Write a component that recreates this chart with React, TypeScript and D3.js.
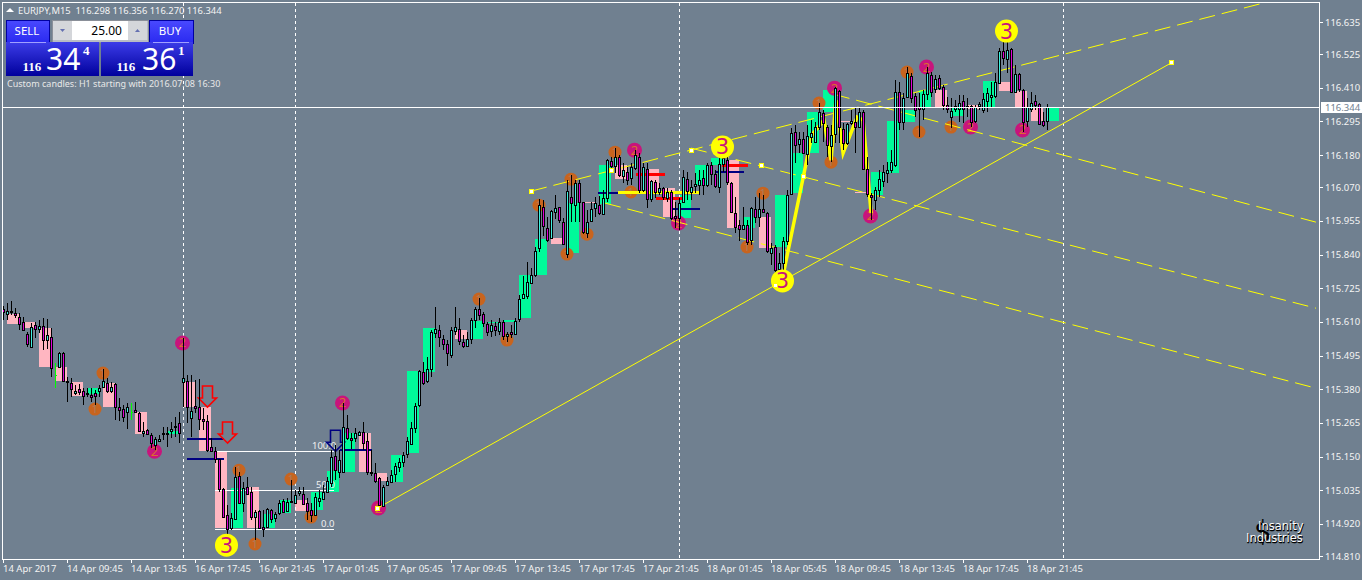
import * as d3 from "d3";

// [open, high, low, close] of every M15 bar
const candles: number[][] = [
  [115.654,115.664,115.616,115.644],[115.637,115.674,115.616,115.647],[115.644,115.681,115.633,115.647],[115.640,115.657,115.623,115.633],
  [115.627,115.640,115.582,115.603],[115.610,115.627,115.579,115.582],[115.568,115.575,115.524,115.534],[115.524,115.606,115.521,115.592],
  [115.599,115.610,115.555,115.585],[115.585,115.616,115.572,115.596],[115.596,115.623,115.514,115.548],[115.548,115.620,115.517,115.565],
  [115.558,115.589,115.421,115.452],[115.428,115.469,115.384,115.428],[115.456,115.507,115.452,115.503],[115.503,115.507,115.404,115.408],
  [115.408,115.421,115.336,115.404],[115.401,115.418,115.353,115.380],[115.367,115.394,115.360,115.374],[115.380,115.397,115.360,115.370],
  [115.374,115.384,115.326,115.356],[115.367,115.384,115.353,115.363],[115.360,115.384,115.336,115.353],[115.367,115.377,115.326,115.356],
  [115.374,115.394,115.353,115.384],[115.387,115.449,115.384,115.408],[115.401,115.418,115.367,115.374],[115.374,115.404,115.367,115.387],
  [115.397,115.401,115.274,115.319],[115.319,115.350,115.271,115.309],[115.312,115.326,115.268,115.285],[115.302,115.333,115.244,115.319],
  [115.302,115.333,115.274,115.302],[115.309,115.336,115.298,115.302],[115.298,115.302,115.233,115.237],[115.230,115.268,115.216,115.237],
  [115.240,115.244,115.223,115.227],[115.223,115.230,115.179,115.196],[115.189,115.216,115.172,115.209],[115.203,115.223,115.199,115.209],
  [115.230,115.251,115.206,115.227],[115.227,115.251,115.182,115.230],[115.237,115.268,115.213,115.244],[115.251,115.285,115.216,115.254],
  [115.264,115.302,115.196,115.230],[115.404,115.555,115.319,115.418],[115.408,115.428,115.264,115.319],[115.281,115.428,115.216,115.305],
  [115.322,115.411,115.298,115.315],[115.319,115.415,115.240,115.278],[115.278,115.315,115.240,115.271],[115.271,115.292,115.165,115.172],
  [115.182,115.213,115.165,115.168],[115.168,115.182,115.127,115.141],[115.141,115.141,115.028,115.039],[115.039,115.042,114.940,114.943],
  [114.950,114.984,114.837,114.902],[114.905,114.957,114.898,114.940],[114.936,115.114,114.936,115.080],[115.083,115.097,114.991,114.991],
  [114.991,115.063,114.960,115.042],[115.045,115.080,115.018,115.021],[115.028,115.045,114.933,114.943],[114.943,114.967,114.864,114.960],
  [114.963,114.967,114.905,114.905],[114.909,114.967,114.875,114.902],[114.909,114.974,114.905,114.970],[114.967,114.970,114.922,114.936],
  [114.940,114.960,114.926,114.953],[114.957,115.001,114.950,114.991],[114.998,115.004,114.957,114.960],[114.963,115.008,114.960,114.994],
  [114.994,115.069,114.991,114.998],[114.991,115.035,114.991,115.018],[115.025,115.045,115.015,115.032],[115.021,115.045,114.984,114.987],
  [114.991,115.008,114.933,114.963],[114.967,114.991,114.926,114.950],[114.950,115.025,114.950,115.011],[114.998,115.035,114.977,115.008],
  [115.004,115.052,115.004,115.028],[115.028,115.080,115.025,115.066],[115.059,115.172,115.045,115.148],[115.151,115.189,115.069,115.103],
  [115.097,115.172,115.076,115.138],[115.097,115.333,115.093,115.251],[115.247,115.292,115.206,115.213],[115.213,115.230,115.175,115.206],
  [115.213,115.247,115.199,115.230],[115.223,115.237,115.223,115.233],[115.233,115.268,115.172,115.196],[115.203,115.230,115.086,115.097],
  [115.097,115.172,115.083,115.093],[115.093,115.127,115.059,115.066],[115.076,115.080,114.977,114.984],[114.980,115.052,114.977,115.045],
  [115.052,115.080,115.049,115.066],[115.063,115.103,115.059,115.086],[115.090,115.127,115.063,115.117],[115.114,115.145,115.097,115.131],
  [115.131,115.165,115.114,115.155],[115.158,115.216,115.145,115.203],[115.192,115.268,115.189,115.247],[115.247,115.333,115.230,115.322],
  [115.326,115.446,115.319,115.442],[115.439,115.473,115.394,115.401],[115.408,115.490,115.401,115.449],[115.449,115.582,115.421,115.575],
  [115.572,115.661,115.555,115.585],[115.582,115.599,115.524,115.558],[115.551,115.565,115.514,115.534],[115.534,115.548,115.459,115.503],
  [115.497,115.592,115.486,115.582],[115.579,115.661,115.565,115.592],[115.585,115.623,115.531,115.544],[115.541,115.565,115.521,115.527],
  [115.527,115.575,115.524,115.551],[115.551,115.623,115.534,115.616],[115.616,115.661,115.589,115.654],[115.654,115.691,115.616,115.633],
  [115.637,115.644,115.592,115.606],[115.603,115.610,115.562,115.575],[115.579,115.616,115.558,115.599],[115.596,115.610,115.562,115.582],
  [115.579,115.623,115.565,115.610],[115.610,115.616,115.548,115.562],[115.562,115.575,115.541,115.568],[115.575,115.599,115.555,115.568],
  [115.568,115.623,115.565,115.613],[115.620,115.702,115.610,115.688],[115.691,115.767,115.691,115.705],[115.698,115.815,115.688,115.746],
  [115.743,115.794,115.739,115.770],[115.770,115.866,115.763,115.852],[115.862,116.030,115.849,116.009],[116.002,116.026,115.903,115.938],
  [115.931,115.968,115.883,115.890],[115.897,115.992,115.893,115.989],[115.985,116.043,115.961,115.999],[116.002,116.002,115.948,115.958],
  [115.951,115.965,115.873,115.876],[115.842,116.095,115.828,116.057],[116.037,116.112,115.951,116.016],[116.009,116.095,115.951,116.085],
  [116.085,116.095,115.951,116.020],[116.020,116.020,115.910,115.917],[115.914,115.992,115.897,115.951],[115.955,116.020,115.951,115.996],
  [115.999,116.037,115.968,116.016],[116.009,116.040,115.975,115.982],[115.979,116.061,115.975,116.033],[116.033,116.167,116.020,116.163],
  [116.160,116.173,116.119,116.143],[116.143,116.204,116.119,116.173],[116.173,116.180,116.105,116.112],[116.108,116.153,116.085,116.129],
  [116.122,116.139,116.078,116.095],[116.102,116.153,116.078,116.139],[116.136,116.197,116.129,116.180],[116.173,116.187,116.050,116.061],
  [116.061,116.153,116.054,116.139],[116.132,116.153,115.999,116.030],[116.030,116.095,116.020,116.091],[116.088,116.095,116.033,116.054],
  [116.054,116.085,116.043,116.067],[116.067,116.071,116.026,116.037],[116.033,116.067,116.020,116.054],[116.054,116.061,115.958,115.965],
  [115.972,116.020,115.931,115.965],[115.965,116.033,115.924,116.016],[116.020,116.129,116.016,116.105],[116.098,116.122,116.026,116.057],
  [116.054,116.095,116.026,116.071],[116.074,116.119,116.050,116.081],[116.078,116.129,116.043,116.095],[116.102,116.129,116.043,116.078],
  [116.078,116.153,116.071,116.146],[116.146,116.156,116.078,116.115],[116.115,116.129,116.067,116.074],[116.071,116.187,116.050,116.149],
  [116.149,116.204,116.122,116.170],[116.163,116.173,116.078,116.088],[116.085,116.088,115.982,115.985],[115.982,116.037,115.914,115.934],
  [115.941,115.958,115.886,115.927],[115.927,116.002,115.924,115.941],[115.941,115.958,115.873,115.883],[115.890,116.002,115.873,115.999],
  [115.996,116.037,115.948,115.968],[115.968,116.050,115.934,115.996],[115.996,116.043,115.982,115.985],[115.982,115.985,115.845,115.852],
  [115.845,115.879,115.804,115.862],[115.866,115.873,115.777,115.787],[115.791,115.845,115.773,115.811],[115.811,115.900,115.746,115.886],
  [115.886,116.061,115.873,116.043],[116.047,116.272,116.043,116.255],[116.259,116.283,116.153,116.214],[116.218,116.259,116.187,116.235],
  [116.235,116.259,116.187,116.187],[116.184,116.283,116.146,116.245],[116.242,116.300,116.221,116.255],[116.225,116.293,116.221,116.276],
  [116.276,116.358,116.266,116.327],[116.324,116.334,116.225,116.290],[116.276,116.283,116.173,116.214],[116.211,116.283,116.156,116.249],
  [116.252,116.413,116.221,116.409],[116.399,116.402,116.221,116.276],[116.269,116.290,116.197,116.221],[116.221,116.290,116.214,116.286],
  [116.290,116.334,116.283,116.296],[116.293,116.344,116.187,116.276],[116.276,116.344,116.276,116.327],[116.327,116.334,116.129,116.132],
  [116.132,116.173,116.037,116.047],[116.043,116.050,115.958,116.037],[116.026,116.071,115.992,116.061],[116.061,116.129,116.037,116.098],
  [116.091,116.146,116.071,116.122],[116.119,116.156,116.085,116.129],[116.129,116.197,116.119,116.156],[116.146,116.437,116.139,116.396],
  [116.396,116.430,116.266,116.293],[116.293,116.392,116.266,116.375],[116.378,116.481,116.375,116.460],[116.450,116.460,116.358,116.375],
  [116.382,116.392,116.310,116.334],[116.344,116.392,116.242,116.337],[116.337,116.402,116.300,116.389],[116.389,116.481,116.368,116.460],
  [116.454,116.464,116.378,116.396],[116.406,116.454,116.392,116.440],[116.443,116.454,116.402,116.409],[116.413,116.419,116.334,116.351],
  [116.351,116.378,116.324,116.337],[116.310,116.375,116.272,116.331],[116.337,116.368,116.327,116.348],[116.337,116.385,116.293,116.358],
  [116.365,116.385,116.290,116.337],[116.348,116.375,116.310,116.344],[116.348,116.351,116.276,116.293],[116.296,116.351,116.290,116.344],
  [116.348,116.361,116.334,116.355],[116.334,116.392,116.324,116.372],[116.365,116.409,116.327,116.392],[116.378,116.430,116.341,116.385],
  [116.382,116.460,116.375,116.430],[116.426,116.546,116.426,116.536],[116.536,116.590,116.488,116.512],[116.508,116.597,116.460,116.539],
  [116.543,116.546,116.396,116.396],[116.396,116.488,116.396,116.457],[116.457,116.460,116.396,116.406],[116.402,116.406,116.259,116.293],
  [116.296,116.375,116.276,116.344],[116.337,116.396,116.327,116.358],[116.365,116.385,116.334,116.351],[116.355,116.358,116.283,116.286],
  [116.296,116.327,116.276,116.283],[116.296,116.356,116.266,116.344],
];

// [open, close] of the custom H1 candles behind the bars
const hourly: number[][] = [
  [115.637,115.603],[115.610,115.589],[115.589,115.456],[115.456,115.408],[115.404,115.356],[115.363,115.384],
  [115.401,115.319],[115.302,115.302],[115.302,115.227],[115.227,115.227],[115.227,115.237],[115.404,115.319],
  [115.319,115.168],[115.168,114.905],[114.905,115.042],[115.045,114.905],[114.905,114.953],[114.957,115.001],
  [115.001,114.963],[114.967,115.028],[115.028,115.100],[115.097,115.230],[115.230,115.097],[115.093,115.066],
  [115.063,115.155],[115.162,115.442],[115.439,115.589],[115.589,115.589],[115.582,115.551],[115.551,115.613],
  [115.606,115.610],[115.610,115.616],[115.623,115.770],[115.770,115.893],[115.897,115.876],[115.845,116.016],
  [116.020,116.016],[116.013,116.146],[116.146,116.098],[116.098,116.098],[116.132,116.054],[116.067,115.968],
  [115.965,116.043],[116.078,116.146],[116.146,116.170],[116.163,115.931],[115.931,115.968],[115.968,115.862],
  [115.866,116.043],[116.050,116.187],[116.187,116.327],[116.327,116.402],[116.296,116.293],[116.054,116.050],
  [116.043,116.122],[116.119,116.296],[116.293,116.334],[116.341,116.402],[116.402,116.341],[116.314,116.344],
  [116.351,116.337],[116.341,116.433],[116.430,116.399],[116.399,116.344],[116.341,116.296],[116.296,116.341],
];

const priceTicks = [116.635,116.525,116.41,116.295,116.18,116.07,115.955,115.84,115.725,115.61,115.495,115.38,115.265,115.15,115.035,114.92,114.81];
const priceFormat = d3.format(".3f");
const lastPrice = 116.344;

const timeLabels = ["14 Apr 2017","14 Apr 09:45","14 Apr 13:45","16 Apr 17:45","16 Apr 21:45","17 Apr 01:45","17 Apr 05:45","17 Apr 09:45","17 Apr 13:45","17 Apr 17:45","17 Apr 21:45","18 Apr 01:45","18 Apr 05:45","18 Apr 09:45","18 Apr 13:45","18 Apr 17:45","18 Apr 21:45"];
const daySeparators = [45, 73, 169, 265];

// wave degree markers: [bar, price]
const wave1 = [[25,115.435],[23,115.312],[59,115.103],[63,114.851],[72,115.073],[77,114.943],[119,115.688],[126,115.548],[134,116.009],[142,116.098],[141,115.842],[146,115.910],[153,116.190],[157,116.054],[190,116.050],[186,115.866],[204,116.358],[207,116.156],[226,116.464],[229,116.259],[237,116.276]];
const wave2 = [[45,115.538],[38,115.168],[85,115.333],[94,114.974],[158,116.197],[169,115.948],[208,116.409],[217,115.972],[231,116.481],[242,116.276],[255,116.266]];
const wave3 = [[56,114.847],[180,116.208],[195,115.750],[251,116.604]];

// trend objects: [bar1, price1, bar2, price2]
const solidTrend = [93.6,114.974,291.9,116.495];
const channelLines = [
  [131.9,116.057,315,116.700],
  [207.6,116.388,328.1,115.951],
  [171.9,116.204,328.1,115.657],
  [150.4,116.016,328,115.384],
];
const anchorPoints = [[93.6,114.974],[291.9,116.495],[131.9,116.057],[172,116.197],[152,116.129],[189.4,116.146],[192.9,115.736],[199.9,116.108]];

const waveLine = [[194.9,115.770],[202.1,116.249],[205.1,116.300],[206.9,116.163],[208.1,116.368],[209.9,116.187],[213.4,116.310],[214.9,116.300],[216.9,115.982]];

// horizontal level segments: [bar1, bar2, price, colour]
const levels: [number, number, number, string][] = [
  [45.9,55,115.210,"#000080"],[45.9,55.1,115.141,"#000080"],[84.1,92.2,115.172,"#000080"],
  [148.6,153.6,116.050,"#000080"],[153.6,174.1,116.054,"#ffff00"],[158,165.4,116.115,"#ff0000"],
  [163,170,116.033,"#ff0000"],[167.4,174.1,115.996,"#000080"],[179.6,186.1,116.143,"#ff0000"],[177.9,185.1,116.122,"#000080"],
];

const fibLevels = [[115.168,"100.0",312],[115.035,"50.0",316],[114.902,"0.0",321]] as [number,string,number][];
const downArrows = [[51,115.319,"#ff0000"],[56,115.196,"#ff0000"],[83,115.168,"#000080"]] as [number,number,string][];

const BG = "#708090";
const UP_BODY = "#40f0e0";
const DOWN_BODY = "#e000d8";
const H1_UP = "#00fa9a";
const H1_DOWN = "#ffb6c1";
const FONT = "'Noto Sans', sans-serif";
const LABEL = 9.5;

const W = 1362;
const H = 580;
const left = 2.5;
const right = 1319.5;
const top = 2.5;
const bottom = 559.5;

export default function App() {
  const x = d3.scaleLinear().domain([0, 261]).range([3.5, 1047.5]);
  const y = d3.scaleLinear().domain([114.81, 116.635]).range([556, 22]);
  const snap = (v: number) => Math.round(v) + 0.5;
  const wavePath = d3.line<number[]>().x((d) => x(d[0])).y((d) => y(d[1]))(waveLine) || "";

  return (
    <svg width={W} height={H} style={{ position: "fixed", left: 0, top: 0, display: "block", background: BG }} fontFamily={FONT}>
      <defs>
        <linearGradient id="btn" x1="0" x2="0" y1="0" y2="1">
          <stop offset="0" stopColor="#4a4aff" />
          <stop offset="1" stopColor="#2a2af0" />
        </linearGradient>
        <linearGradient id="quote" x1="0" x2="0" y1="0" y2="1">
          <stop offset="0" stopColor="#3c3ce8" />
          <stop offset="1" stopColor="#00009c" />
        </linearGradient>
        <clipPath id="plot">
          <rect x={left} y={top} width={right - left} height={bottom - top} />
        </clipPath>
      </defs>

      {/* H1 candles */}
      <g shapeRendering="crispEdges">
        {hourly.map((d, k) => {
          const y0 = y(Math.max(d[0], d[1]));
          const y1 = y(Math.min(d[0], d[1]));
          return (
            <rect key={k} x={x(1 + 4 * k) - 0.5} width={12} y={y0} height={y1 - y0}
              fill={d[1] >= d[0] ? H1_UP : H1_DOWN} />
          );
        })}
      </g>

      {/* separators */}
      {daySeparators.map((i) => (
        <line key={i} x1={x(i)} x2={x(i)} y1={top} y2={bottom} stroke="#fff" strokeDasharray="3,3" shapeRendering="crispEdges" />
      ))}

      {/* markers */}
      {wave1.map((d, i) => (
        <g key={i}>
          <circle cx={x(d[0]) - 0.5} cy={y(d[1])} r={6.5} fill="#c8641e" />
          <text x={x(d[0]) - 0.5} y={y(d[1]) + 4} fontSize={11} textAnchor="middle" fill="#a87c5c">1</text>
        </g>
      ))}
      {wave2.map((d, i) => (
        <g key={i}>
          <circle cx={x(d[0]) - 1} cy={y(d[1])} r={7.5} fill="#c8147c" />
          <text x={x(d[0]) - 1} y={y(d[1]) + 4.5} fontSize={13} textAnchor="middle" fill="#d8702c">2</text>
        </g>
      ))}

      {/* objects */}
      <g clipPath="url(#plot)">
        {channelLines.map((d, i) => (
          <line key={i} x1={x(d[0])} y1={y(d[1])} x2={x(d[2])} y2={y(d[3])} stroke="#ffff00" strokeDasharray="16,7" />
        ))}
        <line x1={x(solidTrend[0])} y1={y(solidTrend[1])} x2={x(solidTrend[2])} y2={y(solidTrend[3])} stroke="#ffff00" />
        <path d={wavePath} fill="none" stroke="#ffff00" strokeWidth={3.5} />
        {levels.map((d, i) => (
          <line key={i} x1={x(d[0])} x2={x(d[1])} y1={y(d[2])} y2={y(d[2])} stroke={d[3]} strokeWidth={d[3] === "#000080" ? 2 : 3} shapeRendering="crispEdges" />
        ))}
      </g>

      {/* fibo levels */}
      {fibLevels.map((d) => (
        <g key={d[1]}>
          <line x1={215} x2={334} y1={snap(y(d[0]))} y2={snap(y(d[0]))} stroke="#fff" shapeRendering="crispEdges" />
          <text x={d[2]} y={snap(y(d[0])) - 3} fontSize={LABEL} fill="#f0f0f0">{d[1]}</text>
        </g>
      ))}

      {/* arrows */}
      {downArrows.map((d, i) => {
        const cx = x(d[0]);
        const tip = y(d[1]);
        return (
          <path key={i} fill="none" stroke={d[2]} strokeWidth={1.6}
            d={`M${cx},${tip}L${cx - 9},${tip - 9}H${cx - 5}V${tip - 21}H${cx + 5}V${tip - 9}H${cx + 9}Z`} />
        );
      })}

      {/* bars */}
      <g shapeRendering="crispEdges">
        {candles.map((d, i) => {
          const cx = x(i);
          if (d[0] === d[3]) {
            return (
              <g key={i} stroke="#00ff00">
                <line x1={cx} x2={cx} y1={y(d[1])} y2={y(d[2])} />
                <line x1={cx - 1} x2={cx + 1} y1={snap(y(d[0]))} y2={snap(y(d[0]))} />
              </g>
            );
          }
          const bt = snap(y(Math.max(d[0], d[3])));
          const bb = snap(y(Math.min(d[0], d[3])));
          return (
            <g key={i}>
              <line x1={cx} x2={cx} y1={y(d[1])} y2={y(d[2])} stroke="#000" />
              <rect x={cx - 1} y={bt} width={2} height={Math.max(1, bb - bt)} fill={d[3] > d[0] ? UP_BODY : DOWN_BODY} stroke="#000" />
            </g>
          );
        })}
      </g>

      {/* big markers and anchors sit on top */}
      {wave3.map((d, i) => (
        <g key={i}>
          <circle cx={x(d[0]) - 1} cy={y(d[1])} r={11.5} fill="#ffff00" />
          <text x={x(d[0]) - 1} y={y(d[1]) + 7.5} fontSize={21} textAnchor="middle" fill="#c8147c" fontFamily="'DejaVu Sans', sans-serif">3</text>
        </g>
      ))}
      {anchorPoints.map((d, i) => (
        <rect key={i} x={x(d[0]) - 2} y={y(d[1]) - 2} width={4} height={4} fill="#fff" stroke="#ffff00" strokeWidth={1} shapeRendering="crispEdges" />
      ))}

      {/* frame */}
      <g stroke="#fff" shapeRendering="crispEdges">
        <rect x={left} y={top} width={right - left} height={bottom - top} fill="none" />
        <line x1={left} x2={right} y1={snap(y(lastPrice))} y2={snap(y(lastPrice))} />
        {priceTicks.map((p) => (
          <line key={p} x1={right} x2={right + 3} y1={snap(y(p))} y2={snap(y(p))} />
        ))}
        {timeLabels.map((_, k) => (
          <line key={k} x1={x(16 * k)} x2={x(16 * k)} y1={bottom} y2={bottom + 3} />
        ))}
      </g>
      {priceTicks.map((p) => (
        <text key={p} x={1325} y={y(p) + 3.5} fontSize={LABEL} fill="#f4f4f4">{priceFormat(p)}</text>
      ))}
      <rect x={1321} y={y(lastPrice) - 5} width={41} height={10.5} fill="#fff" shapeRendering="crispEdges" />
      <text x={1325} y={y(lastPrice) + 3.5} fontSize={LABEL} fill={BG}>{priceFormat(lastPrice)}</text>
      {timeLabels.map((t, k) => (
        <text key={t} x={x(16 * k) - 0.5} y={571.5} fontSize={LABEL} fill="#f4f4f4">{t}</text>
      ))}

      {/* header */}
      <path d="M6,12L10,8L14,12Z" fill="#fff" />
      <text x={18} y={14} fontSize={9.4} fill="#f4f4f4" xmlSpace="preserve">EURJPY,M15  116.298 116.356 116.270 116.344</text>
      <text x={7} y={87} fontSize={9} fill="#e8e8e8">Custom candles: H1 starting with 2016.07.08 16:30</text>

      {/* one click trading panel */}
      <g shapeRendering="crispEdges">
        <rect x={52} y={20} width={96} height={22} fill="#b8bcc4" stroke="#8a8f98" />
        <rect x={53} y={21} width={19} height={19} fill="#d4d6da" />
        <rect x={72} y={21} width={56} height={19} fill="#fff" />
        <rect x={128} y={21} width={19} height={19} fill="#d4d6da" />
        <rect x={6} y={20} width={43} height={23} fill="url(#btn)" stroke="#0000a0" />
        <rect x={149} y={20} width={44} height={23} fill="url(#btn)" stroke="#0000a0" />
        <rect x={6} y={42} width={93} height={34} fill="url(#quote)" />
        <rect x={101} y={42} width={92} height={34} fill="url(#quote)" />
        <line x1={10} x2={46} y1={42.5} y2={42.5} stroke="#a0a0ff" />
        <line x1={153} x2={189} y1={42.5} y2={42.5} stroke="#a0a0ff" />
      </g>
      <path d="M60,29H65L62.5,32Z" fill="#6470b0" />
      <path d="M135,32H140L137.5,29Z" fill="#6470b0" />
      <text x={122} y={35} fontSize={12} textAnchor="end" fill="#000">25.00</text>
      <text x={27} y={35} fontSize={11.5} textAnchor="middle" fill="#fff">SELL</text>
      <text x={170} y={35} fontSize={11.5} textAnchor="middle" fill="#fff">BUY</text>
      <g fill="#fff">
        <text x={22.5} y={71} fontSize={13} fontWeight="bold" fontFamily="'Liberation Serif', serif">116</text>
        <text x={46} y={70} fontSize={30} fontFamily="'Noto Sans', sans-serif">34</text>
        <text x={83} y={55} fontSize={13} fontWeight="bold" fontFamily="'Liberation Serif', serif">4</text>
        <text x={116.5} y={71} fontSize={13} fontWeight="bold" fontFamily="'Liberation Serif', serif">116</text>
        <text x={142} y={70} fontSize={30} fontFamily="'Noto Sans', sans-serif">36</text>
        <text x={178} y={55} fontSize={13} fontWeight="bold" fontFamily="'Liberation Serif', serif">1</text>
      </g>

      {/* watermark */}
      <text x={1263} y={541} fontSize={28} textAnchor="middle" fill="#000" fontFamily="'DejaVu Sans', sans-serif">$</text>
      {["Insanity", "Industries"].map((t, i) => (
        <g key={t} fontSize={11.5} fontFamily="'DejaVu Sans', sans-serif">
          <text x={i ? 1246 : 1258} y={i ? 542 : 530} fill="#000" stroke="#000" strokeWidth={0.6} dx={0.6} dy={0.6}>{t}</text>
          <text x={i ? 1246 : 1258} y={i ? 542 : 530} fill="#fff">{t}</text>
        </g>
      ))}
    </svg>
  );
}
